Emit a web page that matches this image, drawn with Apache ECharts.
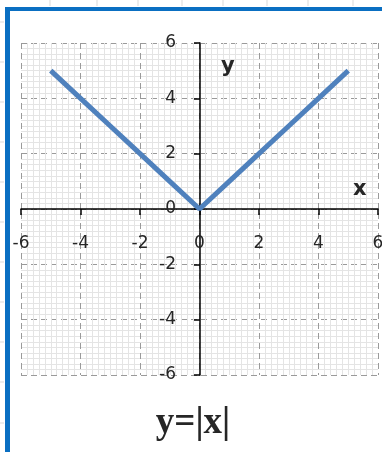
<!DOCTYPE html>
<html>
<head>
<meta charset="utf-8">
<script src="https://cdn.jsdelivr.net/npm/echarts@6/dist/echarts.min.js"></script>
<style>
  html, body { margin: 0; padding: 0; background: #ffffff; }
  #chart { width: 382px; height: 452px; }
</style>
</head>
<body>
<div id="chart"></div>
<script>
// Graph of y = |x|
const xValues = [-5, -4, -3, -2, -1, 0, 1, 2, 3, 4, 5];
const yValues = [5, 4, 3, 2, 1, 0, 1, 2, 3, 4, 5];
const axisMin = -6;
const axisMax = 6;
const axisStep = 2;
const titleText = 'y=|x|';

const points = xValues.map((x, i) => [x, yValues[i]]);

// plot area box
const W = 382, H = 452;
const gridBox = { left: 21, right: 4, top: 43, bottom: 77 };
const plotW = W - gridBox.left - gridBox.right;
const plotH = H - gridBox.top - gridBox.bottom;
// shift each axis from the plot edge onto the zero line of the other axis
const zeroFrac = (0 - axisMin) / (axisMax - axisMin);
const xAxisOffset = -Math.round(plotH * zeroFrac);
const yAxisOffset = -Math.round(plotW * zeroFrac);

// faint spreadsheet cell lines behind the frame
const sheetLines = [];
[50, 97, 138, 182, 223, 267, 308, 353].forEach(x => {
  sheetLines.push({ type: 'line', shape: { x1: x, y1: 0, x2: x, y2: 6 }, style: { stroke: '#d9d9d9', lineWidth: 1 }, silent: true });
});
[22, 62, 102, 142, 182, 222, 262, 302, 342, 382, 423].forEach(y => {
  sheetLines.push({ type: 'line', shape: { x1: 0, y1: y, x2: 4, y2: y }, style: { stroke: '#d9d9d9', lineWidth: 1 }, silent: true });
});

const chart = echarts.init(document.getElementById('chart'), null, { renderer: 'canvas' });

const valueAxisCommon = {
  type: 'value',
  min: axisMin,
  max: axisMax,
  interval: axisStep,
  axisLine: { show: true, onZero: false, lineStyle: { color: '#000000', width: 1.5 } },
  axisTick: { show: true, length: 6, lineStyle: { color: '#000000', width: 1.5 } },
  minorTick: { show: false, splitNumber: 10 },
  splitLine: { show: true, lineStyle: { color: '#9a9a9a', type: [6, 4], width: 1 } },
  minorSplitLine: { show: true, lineStyle: { color: '#e4e4e4', width: 1 } }
};

chart.setOption({
  animation: false,
  backgroundColor: '#ffffff',
  grid: Object.assign({ containLabel: false, outerBoundsMode: 'none' }, gridBox),
  xAxis: Object.assign({}, valueAxisCommon, {
    position: 'bottom',
    offset: xAxisOffset,
    axisLabel: { margin: 26, fontSize: 17, color: '#262626', fontFamily: 'DejaVu Sans' }
  }),
  yAxis: Object.assign({}, valueAxisCommon, {
    position: 'left',
    offset: yAxisOffset,
    axisLabel: { margin: 24, fontSize: 17, color: '#262626', fontFamily: 'DejaVu Sans' }
  }),
  series: [{
    type: 'line',
    data: points,
    symbol: 'none',
    lineStyle: { color: '#4f81bd', width: 5 },
    z: 5
  }],
  graphic: sheetLines.concat([
    // blue frame
    { type: 'rect', shape: { x: 5, y: 7, width: 377, height: 4 }, style: { fill: '#0a6fc2' }, silent: true },
    { type: 'rect', shape: { x: 5, y: 7, width: 5, height: 445 }, style: { fill: '#0a6fc2' }, silent: true },
    // axis names
    { type: 'text', left: 221, top: 56, style: { text: 'y', font: 'bold 21px "DejaVu Sans"', fill: '#262626' }, z: 10 },
    { type: 'text', left: 353, top: 179, style: { text: 'x', font: 'bold 21px "DejaVu Sans"', fill: '#262626' }, z: 10 },
    // formula caption
    { type: 'text', x: 193, y: 423, style: { text: titleText, font: 'bold 37px "Liberation Serif"', fill: '#262626', align: 'center', verticalAlign: 'middle' }, z: 10 }
  ])
});
</script>
</body>
</html>
